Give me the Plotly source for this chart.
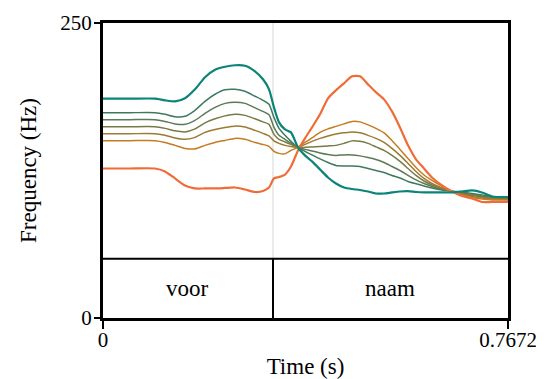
import plotly.graph_objects as go

# ---- data ----
time_s = [0.0, 0.0511, 0.0985, 0.1174, 0.1364, 0.1553, 0.1743, 0.1932, 0.2122, 0.2311,
          0.2500, 0.2690, 0.2879, 0.3031, 0.3145, 0.3239, 0.3334, 0.3448, 0.3561, 0.3694,
          0.3826, 0.3959, 0.4111, 0.4262, 0.4414, 0.4565, 0.4717, 0.4868, 0.5020, 0.5171,
          0.5323, 0.5474, 0.5626, 0.5778, 0.5929, 0.6081, 0.6232, 0.6422, 0.6611, 0.6800,
          0.6990, 0.7179, 0.7369, 0.7672]

f0_step0 = [185.9, 185.9, 185.9, 184.5, 183.6, 186.2, 193.8, 204.0, 210.4, 212.9,
            214.2, 213.8, 209.1, 202.3, 193.8, 178.5, 165.8, 159.8, 157.3, 144.6,
            137.8, 132.7, 125.9, 119.1, 114.0, 110.6, 109.3, 108.5, 107.2, 105.5,
            105.5, 106.4, 107.2, 107.5, 106.8, 106.4, 106.4, 106.4, 106.4, 107.2,
            108.1, 106.4, 103.0, 102.5]
f0_step1 = [174.0, 174.0, 174.0, 172.6, 170.5, 170.9, 176.0, 183.6, 189.6, 193.4,
            193.8, 192.1, 187.9, 184.5, 181.1, 170.0, 160.7, 154.8, 149.7, 144.6,
            141.2, 138.2, 134.8, 131.8, 129.3, 128.9, 128.9, 128.4, 126.7, 125.0,
            123.3, 120.8, 118.7, 115.7, 113.8, 111.9, 110.2, 108.5, 107.5, 106.6,
            105.5, 104.2, 103.0, 102.1]
f0_step2 = [168.1, 168.1, 168.1, 166.6, 164.5, 164.1, 167.5, 173.4, 178.5, 181.9,
            182.8, 181.9, 178.1, 175.1, 172.2, 161.5, 154.8, 151.4, 148.0, 144.6,
            142.9, 141.6, 139.9, 138.6, 137.8, 138.2, 138.2, 137.4, 136.1, 134.4,
            131.8, 128.4, 125.0, 120.8, 117.0, 114.0, 111.5, 108.9, 107.5, 105.9,
            104.7, 103.4, 102.1, 101.5]
f0_step3 = [162.1, 162.1, 162.1, 160.7, 158.6, 157.7, 160.3, 165.4, 168.8, 171.3,
            172.6, 171.7, 168.8, 166.2, 164.1, 155.6, 151.4, 149.2, 147.1, 144.6,
            144.6, 145.0, 145.4, 145.8, 146.3, 148.0, 150.1, 149.7, 148.0, 145.0,
            142.0, 137.8, 132.7, 126.7, 120.8, 116.1, 112.7, 109.8, 107.5, 105.5,
            103.8, 102.5, 101.3, 101.0]
f0_step4 = [156.2, 156.2, 156.2, 154.8, 152.6, 151.4, 153.1, 157.3, 159.8, 161.5,
            162.6, 161.8, 159.0, 156.5, 154.3, 150.1, 148.0, 146.3, 145.4, 144.6,
            147.1, 149.7, 152.2, 154.3, 156.0, 156.9, 157.6, 156.9, 154.8, 152.2,
            148.8, 143.7, 137.8, 131.0, 124.2, 118.3, 114.0, 110.2, 107.5, 105.1,
            103.0, 101.7, 100.8, 100.4]
f0_step5 = [150.3, 150.3, 150.3, 148.8, 146.3, 143.7, 143.3, 146.3, 148.8, 150.5,
            152.2, 151.4, 148.8, 147.1, 145.4, 141.2, 139.5, 139.1, 142.0, 144.6,
            148.8, 152.6, 157.3, 160.3, 162.4, 164.5, 166.6, 166.2, 163.7, 160.7,
            156.9, 150.5, 142.9, 135.2, 127.6, 121.2, 116.6, 111.5, 107.5, 104.2,
            102.1, 100.8, 100.0, 100.0]
f0_step6 = [126.7, 126.7, 126.7, 124.2, 118.3, 112.3, 109.8, 109.8, 109.8, 110.2,
            110.6, 108.9, 106.8, 107.6, 110.6, 118.3, 119.5, 121.6, 128.4, 142.0,
            152.2, 161.5, 172.6, 186.2, 193.0, 198.9, 204.8, 204.8, 198.0, 191.3,
            185.3, 175.1, 161.5, 146.3, 134.4, 126.7, 119.1, 112.3, 107.2, 103.4,
            101.3, 98.3, 98.3, 98.3]

series = [f0_step0, f0_step1, f0_step2, f0_step3, f0_step4, f0_step5, f0_step6]
colors = ["#0b8478", "#3f7a5e", "#5b7a55", "#787a45", "#9c7a32", "#c67b22", "#f06c36"]
widths = [2.2, 1.5, 1.5, 1.5, 1.5, 1.5, 2.2]

tier_labels = ["voor", "naam"]
tier_bounds = [0.0, 0.322, 0.7672]
tier_top = 50.3

x_range = [0.0, 0.7672]
y_range = [0, 250]
x_ticks = [0.0, 0.7672]
x_ticktext = ["0", "0.7672"]
y_ticks = [0, 250]
y_ticktext = ["0", "250"]

FONT = "Liberation Serif, Times New Roman, serif"

fig = go.Figure()
draw_order = [1, 2, 3, 4, 5, 6, 0]
for i in draw_order:
    fig.add_trace(go.Scatter(
        x=time_s, y=series[i], mode="lines",
        line=dict(color=colors[i], width=widths[i], shape="spline", smoothing=0.6),
        hoverinfo="skip", showlegend=False))

shapes = []
for b in tier_bounds[1:-1]:
    shapes.append(dict(type="line", xref="x", yref="y", x0=b, x1=b, y0=tier_top, y1=y_range[1],
                       line=dict(color="#d6d6d6", width=1), layer="below"))
    shapes.append(dict(type="line", xref="x", yref="y", x0=b, x1=b, y0=y_range[0], y1=tier_top,
                       line=dict(color="black", width=2)))
shapes.append(dict(type="line", xref="x", yref="y", x0=x_range[0], x1=x_range[1],
                   y0=tier_top, y1=tier_top, line=dict(color="black", width=2)))

annotations = []
for k, lab in enumerate(tier_labels):
    annotations.append(dict(x=(tier_bounds[k] + tier_bounds[k + 1]) / 2, y=tier_top / 2,
                            xref="x", yref="y", text=lab, showarrow=False,
                            font=dict(family=FONT, size=23, color="black")))

# page body has an 8px margin: figure is sized to fill the rest of the 544x379 window
fig.update_layout(
    width=536, height=371,
    margin=dict(l=95, r=36, t=15, b=61, autoexpand=False),
    paper_bgcolor="white", plot_bgcolor="white",
    shapes=shapes, annotations=annotations,
    font=dict(family=FONT, size=21, color="black"),
    xaxis=dict(range=x_range, tickvals=x_ticks, ticktext=x_ticktext, automargin=False,
               showgrid=False, zeroline=False, showline=True, mirror=True,
               linecolor="black", linewidth=3, ticks="outside", ticklen=8,
               tickwidth=2, tickcolor="black", ticklabelstandoff=-7,
               title=dict(text="Time (s)", font=dict(family=FONT, size=23), standoff=7)),
    yaxis=dict(range=y_range, tickvals=y_ticks, ticktext=y_ticktext, automargin=False,
               showgrid=False, zeroline=False, showline=True, mirror=True,
               linecolor="black", linewidth=3, ticks="outside", ticklen=6,
               tickwidth=2, tickcolor="black", ticklabelstandoff=-2,
               title=dict(text="Frequency (Hz)", font=dict(family=FONT, size=23), standoff=18)),
)

fig.write_html("out.html")
